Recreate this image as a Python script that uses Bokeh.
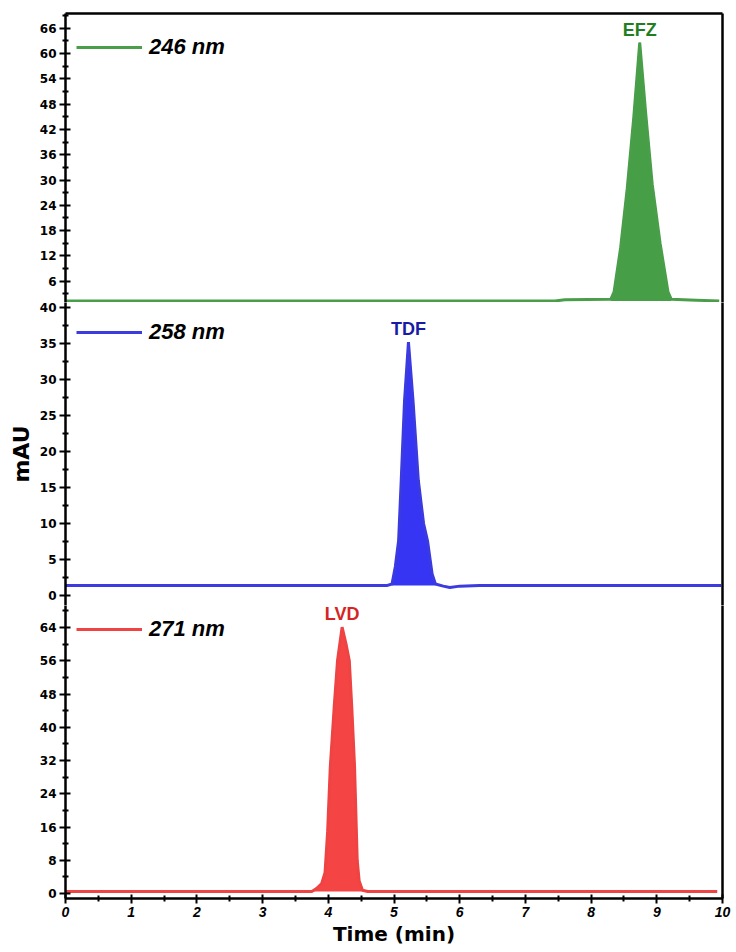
import numpy as np
from bokeh.plotting import figure
from bokeh.layouts import column
from bokeh.models import FixedTicker, LinearAxis, Legend, LegendItem, Range1d
from bokeh.core.properties import value
from bokeh.embed import file_html
from bokeh.resources import INLINE

# ---------------- data ----------------
x_ticks = [0, 1, 2, 3, 4, 5, 6, 7, 8, 9, 10]
x_minor = [0.5, 1.5, 2.5, 3.5, 4.5, 5.5, 6.5, 7.5, 8.5, 9.5]

# 246 nm trace (EFZ)
efz_time = [0.0, 7.45, 7.60, 8.30, 8.35, 8.45, 8.55, 8.65, 8.74, 8.83, 8.93, 9.05, 9.17, 9.22, 9.60, 9.95]
efz_mau = [1.3, 1.3, 1.6, 1.7, 3.5, 14.0, 28.0, 45.0, 62.6, 46.0, 29.0, 15.0, 3.5, 1.7, 1.5, 1.3]
efz_window = (8.30, 9.22)
efz_ticks = [6, 12, 18, 24, 30, 36, 42, 48, 54, 60, 66]
efz_minor = [3, 9, 15, 21, 27, 33, 39, 45, 51, 57, 63, 69]

# 258 nm trace (TDF)
tdf_time = [0.0, 4.90, 4.97, 5.02, 5.07, 5.11, 5.16, 5.22, 5.29, 5.37, 5.45, 5.51, 5.58, 5.63,
            5.75, 5.85, 6.00, 6.30, 9.98]
tdf_mau = [1.4, 1.4, 1.6, 4.0, 7.6, 16.0, 27.0, 35.2, 27.0, 16.0, 10.0, 7.6, 3.0, 1.6,
           1.3, 1.1, 1.3, 1.4, 1.4]
tdf_window = (4.97, 5.63)
tdf_ticks = [0, 5, 10, 15, 20, 25, 30, 35, 40]
tdf_minor = [2.5, 7.5, 12.5, 17.5, 22.5, 27.5, 32.5, 37.5]

# 271 nm trace (LVD)
lvd_time = [0.0, 3.75, 3.82, 3.90, 3.95, 3.99, 4.03, 4.09, 4.14, 4.21, 4.27, 4.32, 4.36, 4.40,
            4.44, 4.47, 4.52, 4.60, 9.92]
lvd_mau = [0.5, 0.5, 1.2, 2.4, 5.0, 15.0, 30.4, 45.0, 56.0, 64.1, 60.0, 56.0, 44.0, 30.4,
           8.0, 3.0, 0.8, 0.5, 0.5]
lvd_window = (3.75, 4.60)
lvd_ticks = [0, 8, 16, 24, 32, 40, 48, 56, 64]
lvd_minor = [4, 12, 20, 28, 36, 44, 52, 60, 68]

wavelengths = ["246 nm", "258 nm", "271 nm"]
peak_names = ["EFZ", "TDF", "LVD"]

# ---------------- styling ----------------
W = 736
BL, BR = 65, 14
x_range = Range1d(0, 10)


def style_axis(ax, ticks, minor, font="DejaVu Sans", size="12px", fstyle="bold"):
    ax.ticker = FixedTicker(ticks=ticks, minor_ticks=minor)
    ax.axis_line_width = 2.5
    ax.axis_line_color = "black"
    ax.major_tick_line_width = 2
    ax.major_tick_line_color = "black"
    ax.minor_tick_line_width = 2
    ax.minor_tick_line_color = "black"
    ax.major_tick_in = 5
    ax.major_tick_out = 6
    ax.minor_tick_in = 3
    ax.minor_tick_out = 3
    ax.major_label_text_font = font
    ax.major_label_text_font_size = size
    ax.major_label_text_font_style = fstyle
    ax.major_label_text_color = "black"
    ax.major_label_standoff = 3


def border_axis(p, side):
    ax = LinearAxis(ticker=FixedTicker(ticks=[]), major_label_text_font_size="0px",
                    major_tick_in=0, major_tick_out=0, minor_tick_in=0, minor_tick_out=0,
                    major_label_standoff=0, axis_line_width=2.5, axis_line_color="black")
    p.add_layout(ax, side)


def panel(height, yr, ticks, minor, t, v, window, line_c, fill_c, text_c, wl, name,
          border_top=0, border_bottom=0, xaxis=False, legend_h=40, ylabel=None):
    p = figure(width=W, height=height, x_range=x_range, y_range=Range1d(*yr),
               output_backend="svg", toolbar_location=None,
               x_axis_location="below" if xaxis else None,
               min_border_left=BL, min_border_right=BR,
               min_border_top=border_top, min_border_bottom=border_bottom,
               outline_line_color=None, background_fill_color="white",
               border_fill_color="white")
    p.grid.visible = False
    style_axis(p.yaxis[0], ticks, minor)
    if ylabel:
        p.yaxis[0].axis_label = ylabel
        p.yaxis[0].axis_label_text_font = "DejaVu Sans"
        p.yaxis[0].axis_label_text_font_size = "22px"
        p.yaxis[0].axis_label_text_font_style = "bold"
        p.yaxis[0].axis_label_text_color = "black"
        p.yaxis[0].axis_label_standoff = 3
    if xaxis:
        ax = p.xaxis[0]
        style_axis(ax, x_ticks, x_minor, font="Liberation Sans", size="14px", fstyle="bold italic")
        ax.major_tick_in = 4
        ax.major_tick_out = 5
        ax.axis_label = "Time (min)"
        ax.axis_label_text_font = "DejaVu Sans"
        ax.axis_label_text_font_size = "20px"
        ax.axis_label_text_font_style = "bold"
        ax.axis_label_text_color = "black"
        ax.axis_label_standoff = 2
    border_axis(p, "right")

    tt = np.array(t)
    vv = np.array(v)
    base = vv[0]
    m = (tt >= window[0]) & (tt <= window[1])
    p.varea(x=tt[m], y1=np.full(m.sum(), base), y2=vv[m], fill_color=fill_c, fill_alpha=0.95)
    r = p.line(tt, vv, line_color=line_c, line_width=3)
    p.line(tt[m], vv[m], line_color=line_c, line_width=1.5)

    i = int(np.argmax(vv))
    p.text(x=[tt[i]], y=[vv[i]], text=[name], text_align="center", text_baseline="bottom",
           y_offset=-3, text_font=value("Liberation Sans"), text_font_style="bold",
           text_font_size="18px", text_color=text_c)

    leg = Legend(items=[LegendItem(label=wl, renderers=[r])], location="top_left",
                 margin=11, padding=0, spacing=0, glyph_width=66, glyph_height=legend_h,
                 label_height=legend_h, label_standoff=7,
                 label_text_font="Liberation Sans", label_text_font_style="bold italic",
                 label_text_font_size="22px", label_text_color="black",
                 border_line_color=None, background_fill_alpha=0)
    p.add_layout(leg)
    return p


p_top = panel(302, (0.95, 69.5), efz_ticks, efz_minor, efz_time, efz_mau, efz_window,
              "#4a9e4a", "#3c9a3c", "#1f7f1f", wavelengths[0], peak_names[0],
              border_top=13, legend_h=46)
border_axis(p_top, "above")

p_mid = panel(303, (-1.39, 40.69), tdf_ticks, tdf_minor, tdf_time, tdf_mau, tdf_window,
              "#3b3be0", "#2a2af2", "#1a1aa6", wavelengths[1], peak_names[1],
              legend_h=38, ylabel="mAU")

p_bot = panel(347, (-1.2, 69.3), lvd_ticks, lvd_minor, lvd_time, lvd_mau, lvd_window,
              "#ef4444", "#f43a3a", "#d62424", wavelengths[2], peak_names[2],
              border_bottom=54, xaxis=True, legend_h=26)

layout = column(p_top, p_mid, p_bot, spacing=0)

open("out.html", "w").write(file_html(layout, INLINE))
